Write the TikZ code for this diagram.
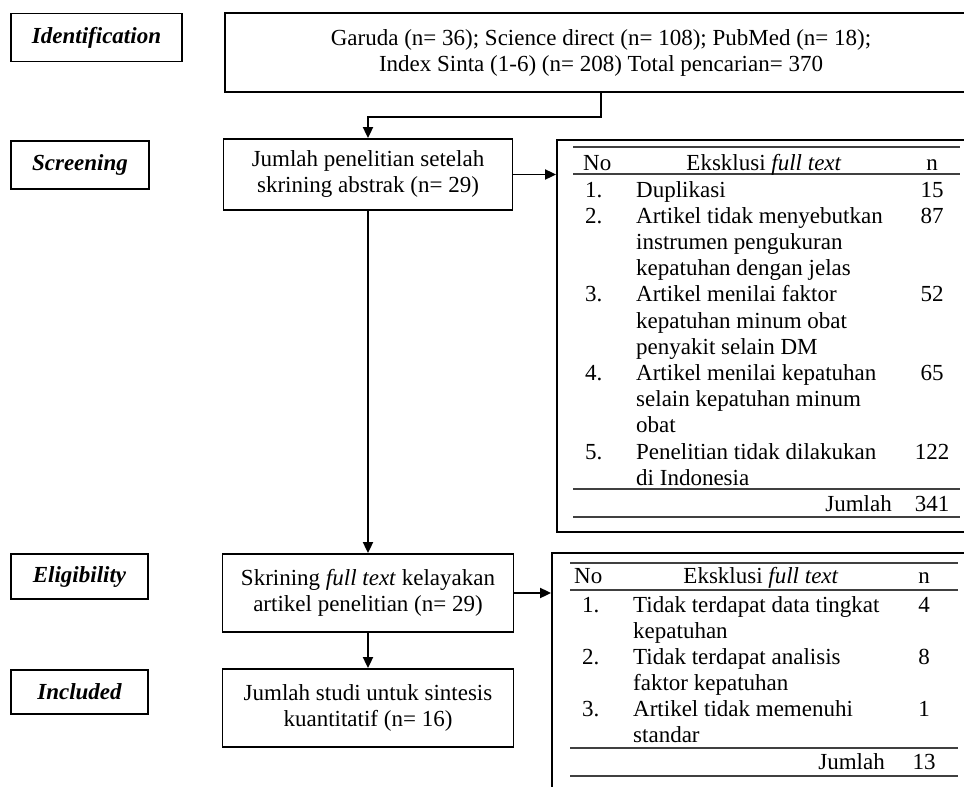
\documentclass[tikz,border=0pt]{standalone}
\usepackage{fontspec}
\setmainfont{Liberation Serif}
\usetikzlibrary{arrows.meta}
\newcommand\myfs{\fontsize{23}{26}\selectfont}
\begin{document}
\begin{tikzpicture}[x=1pt,y=-1pt,
  box/.style={draw, line width=1.8pt, inner sep=0pt, align=center, font=\myfs},
  lab/.style={box, font=\myfs\bfseries\itshape},
  arr/.style={line width=1.8pt, -{Triangle[length=11pt,width=10pt]}},
  rule/.style={line width=1.1pt, draw=black!75},
  cell/.style={inner sep=0pt, font=\myfs, anchor=base west},
  ncell/.style={inner sep=0pt, font=\myfs, anchor=base},
  jcell/.style={inner sep=0pt, font=\myfs, anchor=base east}]
\useasboundingbox (0,0) rectangle (964,787);
\clip (0,0) rectangle (964,787);
% stage labels
\node[lab, minimum width=171pt, minimum height=48pt] (ident) at (96.5,37.5) {Identification};
\node[lab, minimum width=138pt, minimum height=48pt] (screen) at (80,165) {Screening};
\node[lab, minimum width=137pt, minimum height=45pt] (elig) at (79.5,576.5) {Eligibility};
\node[lab, minimum width=137pt, minimum height=44pt] (incl) at (79.5,692) {Included};
% flow boxes
\node[box, minimum width=752pt, minimum height=79pt] (top) at (601,52.5)
  {Garuda (n= 36); Science direct (n= 108); PubMed (n= 18);\\Index Sinta (1-6) (n= 208) Total pencarian= 370};
\node[box, minimum width=289pt, minimum height=71pt] (jp) at (368,174.5)
  {Jumlah penelitian setelah\\skrining abstrak (n= 29)};
\node[box, minimum width=291pt, minimum height=78pt] (sk) at (368,593)
  {Skrining \textit{full text} kelayakan\\artikel penelitian (n= 29)};
\node[box, minimum width=291pt, minimum height=78pt] (js) at (368,708)
  {Jumlah studi untuk sintesis\\kuantitatif (n= 16)};
% exclusion boxes (cut by the right and bottom edges)
\node[box, minimum width=543pt, minimum height=392pt] (t1) at (828.5,336) {};
\node[box, minimum width=548pt, minimum height=300pt] (t2) at (826,703) {};
% connectors
\draw[arr] (top.south) -- ++(0,24) -| (jp.north);
\draw[arr] (jp.east) -- (jp.east -| t1.west);
\draw[arr] (jp.south) -- (sk.north);
\draw[arr] (sk.east) -- (sk.east -| t2.west);
\draw[arr] (sk.south) -- (js.north);
% table 1
\draw[rule] (573,147) -- (960,147);
\draw[rule] (573,174) -- (960,174);
\draw[rule] (573,489) -- (960,489);
\draw[rule] (573,517) -- (960,517);
\node[cell] (t1h1) at (583,170) {No};
\node[ncell] (t1h2) at (764,170) {Eksklusi \textit{full text}};
\node[ncell] (t1h3) at (932,170) {n};
\node[cell] (t1a1) at (585,197) {1.};
\node[cell] (t1a2) at (636,197) {Duplikasi};
\node[ncell] (t1a3) at (932,197) {15};
\node[cell] (t1b1) at (585,223.2) {2.};
\node[cell] (t1b2) at (636,223.2) {Artikel tidak menyebutkan};
\node[ncell] (t1b3) at (932,223.2) {87};
\node[cell] (t1b4) at (636,249.4) {instrumen pengukuran};
\node[cell] (t1b5) at (636,275.6) {kepatuhan dengan jelas};
\node[cell] (t1c1) at (585,301.8) {3.};
\node[cell] (t1c2) at (636,301.8) {Artikel menilai faktor};
\node[ncell] (t1c3) at (932,301.8) {52};
\node[cell] (t1c4) at (636,328) {kepatuhan minum obat};
\node[cell] (t1c5) at (636,354.2) {penyakit selain DM};
\node[cell] (t1d1) at (585,380.4) {4.};
\node[cell] (t1d2) at (636,380.4) {Artikel menilai kepatuhan};
\node[ncell] (t1d3) at (932,380.4) {65};
\node[cell] (t1d4) at (636,406.6) {selain kepatuhan minum};
\node[cell] (t1d5) at (636,432.8) {obat};
\node[cell] (t1e1) at (585,459) {5.};
\node[cell] (t1e2) at (636,459) {Penelitian tidak dilakukan};
\node[ncell] (t1e3) at (932,459) {122};
\node[cell] (t1e4) at (636,485.2) {di Indonesia};
\node[jcell] (t1j1) at (892,511) {Jumlah};
\node[ncell] (t1j2) at (932,511) {341};
% table 2
\draw[rule] (570,563) -- (958,563);
\draw[rule] (570,590) -- (958,590);
\draw[rule] (570,748) -- (958,748);
\draw[rule] (570,776) -- (958,776);
\node[cell] (t2h1) at (574,583) {No};
\node[ncell] (t2h2) at (761,583) {Eksklusi \textit{full text}};
\node[ncell] (t2h3) at (924,583) {n};
\node[cell] (t2a1) at (582,612) {1.};
\node[cell] (t2a2) at (633,612) {Tidak terdapat data tingkat};
\node[ncell] (t2a3) at (924,612) {4};
\node[cell] (t2a4) at (633,638) {kepatuhan};
\node[cell] (t2b1) at (582,664) {2.};
\node[cell] (t2b2) at (633,664) {Tidak terdapat analisis};
\node[ncell] (t2b3) at (924,664) {8};
\node[cell] (t2b4) at (633,690) {faktor kepatuhan};
\node[cell] (t2c1) at (582,716) {3.};
\node[cell] (t2c2) at (633,716) {Artikel tidak memenuhi};
\node[ncell] (t2c3) at (924,716) {1};
\node[cell] (t2c4) at (633,742) {standar};
\node[jcell] (t2j1) at (885,769) {Jumlah};
\node[ncell] (t2j2) at (924,769) {13};
\end{tikzpicture}
\end{document}
